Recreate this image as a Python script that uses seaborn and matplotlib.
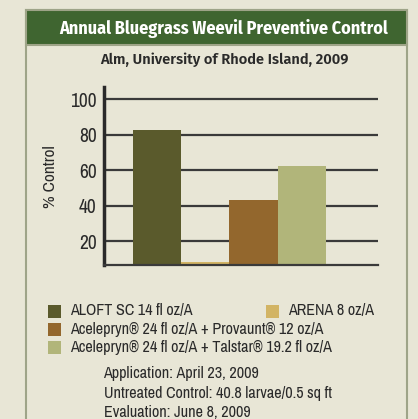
import matplotlib
matplotlib.use('Agg')
import matplotlib.pyplot as plt
import pandas as pd
import seaborn as sns
from matplotlib.patches import Rectangle

# Data
treatments = ['ALOFT SC 14 fl oz/A',
              'ARENA 8 oz/A',
              'Acelepryn\u00ae 24 fl oz/A + Provaunt\u00ae 12 oz/A',
              'Acelepryn\u00ae 24 fl oz/A + Talstar\u00ae 19.2 fl oz/A']
control_pct = [82.8, 8.0, 43.2, 62.4]
bar_colors = ['#5a5a2c', '#d2b464', '#93672d', '#b1b57a']
y_ticks = [20, 40, 60, 80, 100]
notes = ['Application: April 23, 2009',
         'Untreated Control: 40.8 larvae/0.5 sq ft',
         'Evaluation: June 8, 2009']

BG = '#e8e6d6'
NARROW = ['Archivo Narrow', 'DejaVu Sans']

df = pd.DataFrame({'treatment': treatments, 'control': control_pct})

sns.set_style('white')
plt.rcParams['font.family'] = NARROW

W, H = 418, 419
fig = plt.figure(figsize=(W / 100, H / 100), dpi=100, facecolor=BG)


def px(x, y):
    # pixel position (from top-left) -> figure fraction
    return x / W, 1 - y / H


# panel frame and green header
fig.patches.append(Rectangle(px(25.5, 440), (407 - 25.5) / W, (440 - 10.5) / H,
                             transform=fig.transFigure, facecolor=BG,
                             edgecolor='#9ea488', linewidth=1.5, zorder=0))
fig.patches.append(Rectangle(px(25.5, 45.5), (407 - 25.5) / W, 35 / H,
                             transform=fig.transFigure, facecolor='#3f6530',
                             edgecolor='#9ea488', linewidth=1.5, zorder=1))

fig.text(*px(224, 28), 'Annual Bluegrass Weevil Preventive Control', ha='center', va='center',
         color='white', fontsize=13, fontweight='bold', family=['Fira Sans Condensed', 'DejaVu Sans'])
fig.text(*px(224, 60), 'Alm, University of Rhode Island, 2009', ha='center', va='center',
         color='#2a2a2a', fontsize=10.6, fontweight='semibold', family=['Fira Sans', 'DejaVu Sans'])

ax = fig.add_axes([103.7 / W, 1 - 265.3 / H, 274 / W, 178 / H])
ax.set_zorder(5)
ax.set_facecolor('none')
sns.barplot(data=df, x='treatment', y='control', hue='treatment', palette=bar_colors,
            width=1.0, legend=False, ax=ax, saturation=1, zorder=1,
            edgecolor='none', linewidth=0)

ax.set_ylim(6.3, 106.8)
ax.set_xlim(-1.11, 4.58)
ax.set_yticks(y_ticks)
ax.set_xticks([])
ax.set_xlabel('')
ax.set_ylabel('% Control', fontsize=12.5, color='#2a2a2a', labelpad=9)
ax.tick_params(axis='y', length=0, pad=5, labelsize=14, labelcolor='#2a2a2a')
for t in y_ticks:
    ax.axhline(t, color='#3a3a3a', linewidth=1.6, zorder=0)
for s in ['top', 'right']:
    ax.spines[s].set_visible(False)
ax.spines['left'].set_linewidth(2.5)
ax.spines['left'].set_color('#2a2a2a')
ax.spines['bottom'].set_linewidth(1.6)
ax.spines['bottom'].set_color('#3a3a3a')
ax.spines['bottom'].set_zorder(3)

# legend
legend_pos = [(48, 311), (265.5, 311), (48, 329), (48, 347)]
for (x, y), label, c in zip(legend_pos, treatments, bar_colors):
    fig.patches.append(Rectangle(px(x, y + 6.5), 13 / W, 13 / H, transform=fig.transFigure,
                                 facecolor=c, edgecolor='none', zorder=2))
    fig.text(*px(x + 22.5, y), label, ha='left', va='center', fontsize=11.6, color='#2a2a2a')

for i, n in enumerate(notes):
    fig.text(*px(103.5, 373.5 + 19.5 * i), n, ha='left', va='center', fontsize=11.6, color='#2a2a2a')

fig.savefig('out.png', dpi=100, facecolor=BG)
